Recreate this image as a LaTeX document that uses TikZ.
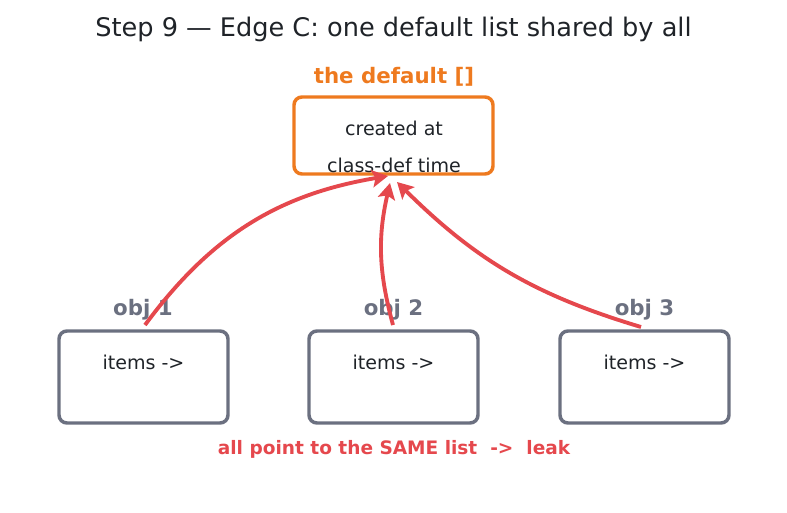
\documentclass[tikz,border=0pt]{standalone}
\usepackage{fontspec}
\setmainfont{DejaVu Sans}
\usetikzlibrary{arrows.meta}
\definecolor{cOrange}{HTML}{EE7A1F}
\definecolor{cRed}{HTML}{E5484D}
\definecolor{cGray}{HTML}{6B7080}
\definecolor{cText}{HTML}{1F2328}
\tikzset{
  objbox/.style={draw=cGray, line width=2.6pt, rounded corners=6pt, minimum width=169*0.75pt, minimum height=92*0.75pt, inner sep=0pt},
  defbox/.style={draw=cOrange, line width=2.6pt, rounded corners=6pt, minimum width=199*0.75pt, minimum height=77*0.75pt, inner sep=0pt},
  txt/.style={text=cText, font=\fontsize{14.3pt}{16pt}\selectfont, inner sep=0pt},
  objlabel/.style={text=cGray, font=\fontsize{16pt}{18pt}\selectfont\bfseries, inner sep=0pt},
  ptr/.style={draw=cRed, line width=2.9pt, -{Stealth[length=12pt, width=13pt, inset=2.5pt]}}
}
\begin{document}
\begin{tikzpicture}[x=0.75pt, y=0.75pt]
\useasboundingbox (0,0) rectangle (787,512);
\node[text=cText, font=\fontsize{19.2pt}{21pt}\selectfont, inner sep=0pt] (title) at (393.5,483) {Step 9 — Edge C: one default list shared by all};
\node[text=cOrange, font=\fontsize{16pt}{18pt}\selectfont\bfseries, inner sep=0pt] (deflabel) at (394,435) {the default []};
\node[defbox] (def) at (393.5,376.5) {};
\node[txt] (d1) at (394,384) {created at};
\node[txt] (d2) at (394,347) {class-def time};

\node[objbox] (o1) at (143.5,135) {};
\node[objbox] (o2) at (393.5,135) {};
\node[objbox] (o3) at (644.5,135) {};
\node[txt] (i1) at (143.5,150) {items ->};
\node[txt] (i2) at (393.5,150) {items ->};
\node[txt] (i3) at (644.5,150) {items ->};
\node[objlabel] (l1) at (143,202) {obj 1};
\node[objlabel] (l2) at (393.5,202) {obj 2};
\node[objlabel] (l3) at (644.5,202) {obj 3};

\coordinate (s1) at (145,187);
\coordinate (s2) at (393,187);
\coordinate (s3) at (641,185);
\coordinate (e1) at (388,336);
\coordinate (e2) at (390,329);
\coordinate (e3) at (397,330);
\draw[ptr] (s1) to[bend left=22] (e1);
\draw[ptr] (s2) to[bend left=14] (e2);
\draw[ptr] (s3) to[bend left=14] (e3);

\node[text=cRed, font=\fontsize{13.9pt}{15pt}\selectfont\bfseries, inner sep=0pt] (foot) at (394,63) {all point to the SAME list\ \ ->\ \ leak};
\end{tikzpicture}
\end{document}
